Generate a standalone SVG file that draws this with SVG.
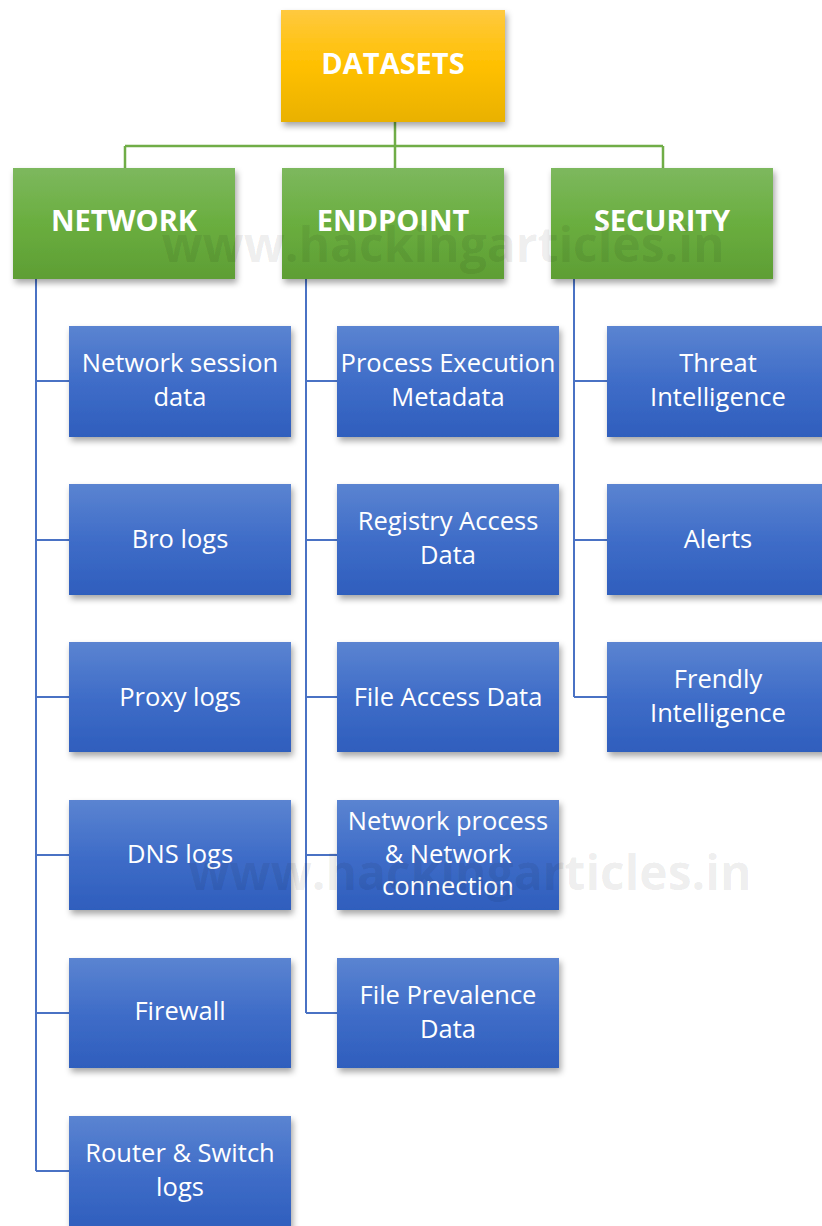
<svg xmlns="http://www.w3.org/2000/svg" width="822" height="1226" viewBox="0 0 822 1226">
<defs>
<linearGradient id="gY" x1="0" y1="0" x2="0" y2="1"><stop offset="0" stop-color="#FFC93F"/><stop offset="0.5" stop-color="#FFC000"/><stop offset="1" stop-color="#E9B100"/></linearGradient>
<linearGradient id="gG" x1="0" y1="0" x2="0" y2="1"><stop offset="0" stop-color="#7DB85E"/><stop offset="0.5" stop-color="#6AAE3F"/><stop offset="1" stop-color="#5E9E34"/></linearGradient>
<linearGradient id="gB" x1="0" y1="0" x2="0" y2="1"><stop offset="0" stop-color="#5B84D1"/><stop offset="0.5" stop-color="#3F6DC8"/><stop offset="1" stop-color="#2F5EBD"/></linearGradient>
<filter id="sh" x="-10%" y="-10%" width="125%" height="130%"><feDropShadow dx="2" dy="4" stdDeviation="3" flood-color="#000" flood-opacity="0.35"/></filter>
</defs>
<style>
.y{fill:url(#gY);filter:url(#sh)}
.g{fill:url(#gG);filter:url(#sh)}
.b{fill:url(#gB);filter:url(#sh)}
.h{font-family:"Open Sans","Liberation Sans",sans-serif;font-weight:bold;font-size:29px;fill:#fff;text-anchor:middle}
.t{font-family:"Open Sans","Liberation Sans",sans-serif;font-size:25.5px;fill:#fff;text-anchor:middle}
.gl{stroke:#70AD47;stroke-width:2.5;fill:none}
.bl{stroke:#4A72C4;stroke-width:2;fill:none}
.wm{font-family:"Open Sans","Liberation Sans",sans-serif;font-weight:bold;font-size:48px;fill:#000;fill-opacity:0.08;text-anchor:middle}
</style>
<g id="connectors">
<path class="gl" d="M395 122V168M125 146H663M125 146V168M663 146V168"/>
<path class="bl" d="M36 279V1171M36 381H69M36 540H69M36 697H69M36 855H69M36 1013H69M36 1171H69"/>
<path class="bl" d="M306 279V1013M306 381H337M306 540H337M306 697H337M306 855H337M306 1013H337"/>
<path class="bl" d="M574 279V697M574 381H607M574 540H607M574 697H607"/>
</g>
<g id="datasets"><rect class="y" x="281" y="10" width="224" height="112"/><text class="h" x="393" y="74">DATASETS</text></g>
<g id="network"><rect class="g" x="13" y="168" width="222" height="111"/><text class="h" x="124" y="231">NETWORK</text></g>
<g id="endpoint"><rect class="g" x="282" y="168" width="222" height="111"/><text class="h" x="393" y="231">ENDPOINT</text></g>
<g id="security"><rect class="g" x="551" y="168" width="222" height="111"/><text class="h" x="662" y="231">SECURITY</text></g>

<g id="n1"><rect class="b" x="69" y="326" width="222" height="111"/><text class="t" x="180" y="372">Network session</text><text class="t" x="180" y="406">data</text></g>
<g id="n2"><rect class="b" x="69" y="484" width="222" height="111"/><text class="t" x="180" y="548">Bro logs</text></g>
<g id="n3"><rect class="b" x="69" y="642" width="222" height="110"/><text class="t" x="180" y="706">Proxy logs</text></g>
<g id="n4"><rect class="b" x="69" y="800" width="222" height="110"/><text class="t" x="180" y="863">DNS logs</text></g>
<g id="n5"><rect class="b" x="69" y="958" width="222" height="110"/><text class="t" x="180" y="1020">Firewall</text></g>
<g id="n6"><rect class="b" x="69" y="1116" width="222" height="115"/><text class="t" x="180" y="1162">Router &amp; Switch</text><text class="t" x="180" y="1196">logs</text></g>

<g id="e1"><rect class="b" x="337" y="326" width="222" height="111"/><text class="t" x="448" y="372">Process Execution</text><text class="t" x="448" y="406">Metadata</text></g>
<g id="e2"><rect class="b" x="337" y="484" width="222" height="111"/><text class="t" x="448" y="530">Registry Access</text><text class="t" x="448" y="564">Data</text></g>
<g id="e3"><rect class="b" x="337" y="642" width="222" height="110"/><text class="t" x="448" y="706">File Access Data</text></g>
<g id="e4"><rect class="b" x="337" y="800" width="222" height="110"/><text class="t" x="448" y="830">Network process</text><text class="t" x="448" y="863">&amp; Network</text><text class="t" x="448" y="895">connection</text></g>
<g id="e5"><rect class="b" x="337" y="958" width="222" height="110"/><text class="t" x="448" y="1004">File Prevalence</text><text class="t" x="448" y="1038">Data</text></g>

<g id="s1"><rect class="b" x="607" y="326" width="222" height="111"/><text class="t" x="718" y="372">Threat</text><text class="t" x="718" y="406">Intelligence</text></g>
<g id="s2"><rect class="b" x="607" y="484" width="222" height="111"/><text class="t" x="718" y="548">Alerts</text></g>
<g id="s3"><rect class="b" x="607" y="642" width="222" height="110"/><text class="t" x="718" y="688">Frendly</text><text class="t" x="718" y="722">Intelligence</text></g>

<text class="wm" x="443" y="262">www.hackingarticles.in</text>
<text class="wm" x="470" y="890">www.hackingarticles.in</text>
</svg>
